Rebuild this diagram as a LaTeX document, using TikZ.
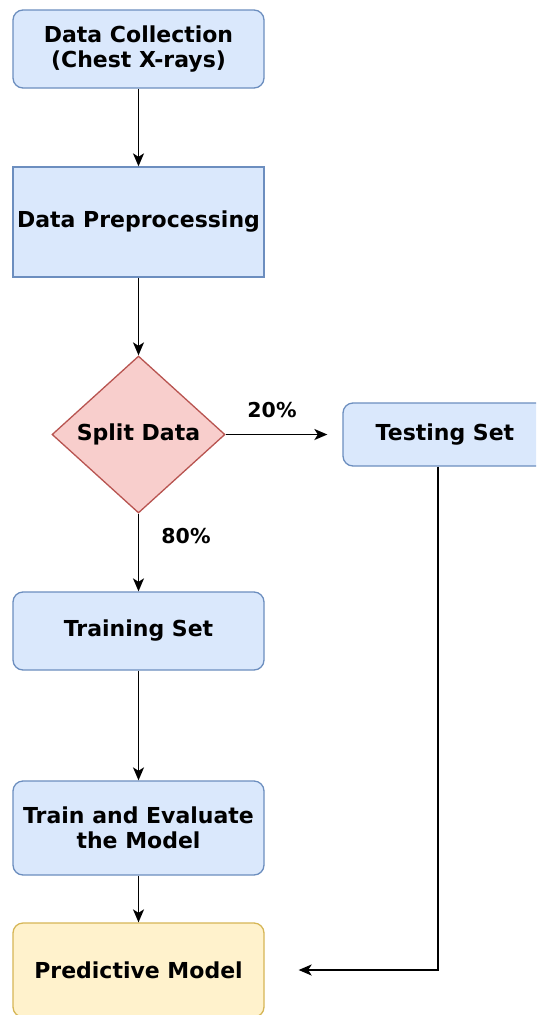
\documentclass[tikz,border=0pt]{standalone}
\usepackage{fontspec}
\setmainfont{DejaVu Sans}
\usetikzlibrary{shapes.geometric,arrows.meta}

\definecolor{blueFill}{HTML}{DAE8FC}
\definecolor{blueLine}{HTML}{6C8EBF}
\definecolor{redFill}{HTML}{F8CECC}
\definecolor{redLine}{HTML}{B85450}
\definecolor{yellowFill}{HTML}{FFF2CC}
\definecolor{yellowLine}{HTML}{D6B656}

\tikzset{
  boxtext/.style={font=\bfseries\fontsize{22}{25.5}\selectfont, align=center, text=black},
  roundbox/.style={boxtext, draw=blueLine, fill=blueFill, line width=1.3pt,
    rounded corners=10pt, minimum width=251pt, inner sep=0pt},
  plainbox/.style={boxtext, draw=blueLine, fill=blueFill, line width=1.3pt,
    minimum width=251pt, inner sep=0pt},
  decision/.style={boxtext, shape=diamond, draw=redLine, fill=redFill, line width=1.3pt,
    minimum width=173pt, minimum height=157pt, inner sep=0pt},
  resultbox/.style={boxtext, draw=yellowLine, fill=yellowFill, line width=1.3pt,
    rounded corners=10pt, minimum width=251pt, inner sep=0pt},
  flow/.style={draw=black, line width=1.8pt, -{Stealth[length=13pt,width=11pt,inset=3.5pt]}},
  pct/.style={font=\bfseries\fontsize{20.5}{24}\selectfont, text=black}
}

\begin{document}
\begin{tikzpicture}[x=1pt, y=-1pt]
  \clip (0,0) rectangle (536,1015);
  \fill[white] (0,0) rectangle (536,1015);

  \node[roundbox, minimum height=78pt] (collect) at (138.5,49) {Data Collection\\(Chest X-rays)};
  \node[plainbox, minimum height=110pt] (prep) at (138.5,222) {Data Preprocessing};
  \node[decision] (split) at (138.5,434.5) {Split Data};
  \node[roundbox, minimum width=204pt, minimum height=63pt] (test) at (445,434.5) {Testing Set};
  \node[roundbox, minimum height=78pt] (train) at (138.5,631) {Training Set};
  \node[roundbox, minimum height=94pt] (evalm) at (138.5,828) {Train and Evaluate\\the Model};
  \node[resultbox, minimum height=94pt] (pred) at (138.5,970) {Predictive Model};

  \node[pct] (p20) at (272,410) {20\%};
  \node[pct] (p80) at (186,536) {80\%};

  \coordinate (testin) at ([xshift=-15pt]test.west);
  \coordinate (predin) at ([xshift=34pt]pred.east);

  \draw[flow] (collect) -- (prep);
  \draw[flow] (prep) -- (split.north);
  \draw[flow] (split.east) -- (testin);
  \draw[flow] (split.south) -- (train);
  \draw[flow] (train) -- (evalm);
  \draw[flow] (evalm) -- (pred);
  \draw[flow] ([xshift=-7pt]test.south) |- (predin);
\end{tikzpicture}
\end{document}
